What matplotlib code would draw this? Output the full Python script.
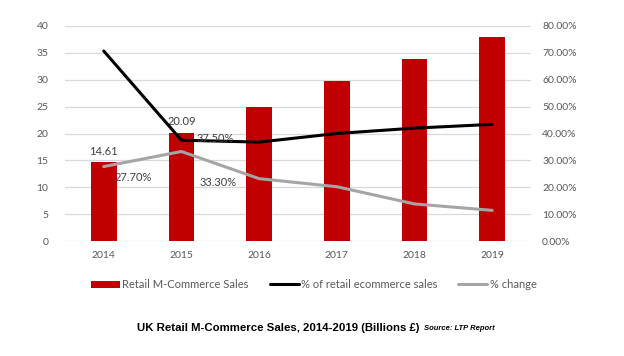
import matplotlib
matplotlib.use("Agg")
import matplotlib.pyplot as plt
import matplotlib.ticker as mtick
import numpy as np

plt.rcParams["font.family"] = ["Lato", "DejaVu Sans"]

# ─── DATA ─────────────────────────────────────────────────────────────────────
years = ["2014", "2015", "2016", "2017", "2018", "2019"]
sales = [14.61, 20.09, 24.9, 29.7, 33.9, 38.0]              # billions £
pct_ecommerce = [0.707, 0.375, 0.368, 0.400, 0.420, 0.434]  # share of retail ecommerce
pct_change = [0.277, 0.333, 0.232, 0.202, 0.138, 0.114]

sales_labels = ["14.61", "20.09"]
share_labels = ["37.50%"]
change_labels = ["27.70%", "33.30%"]

RED = "#C00000"
BLACK = "#000000"
GREY = "#A5A5A5"
TXT = "#595959"
LBL = "#404040"
GRID = "#D9D9D9"

# ─── PLOT ─────────────────────────────────────────────────────────────────────
fig = plt.figure(figsize=(6.24, 3.56), dpi=100)
ax = fig.add_axes([0.104, 0.323, 0.747, 0.604])
ax2 = ax.twinx()

x = np.arange(len(years))
bars = ax.bar(x, sales, width=0.33, color=RED, zorder=2, label="Retail M-Commerce Sales")

ax.set_xlim(-0.5, len(years) - 0.5)
ax.set_ylim(0, 40)
ax.set_yticks(np.arange(0, 41, 5))
ax.yaxis.grid(True, color=GRID, linewidth=0.9, zorder=0)
ax.set_axisbelow(True)
ax.set_xticks(x)
ax.set_xticklabels(years)
ax.tick_params(axis="both", length=0, labelsize=7.5, labelcolor=TXT)
ax.tick_params(axis="x", pad=7)
ax.tick_params(axis="y", pad=12)

line1, = ax2.plot(x, pct_ecommerce, color=BLACK, linewidth=2.2,
                  solid_capstyle="round", label="% of retail ecommerce sales")
line2, = ax2.plot(x, pct_change, color=GREY, linewidth=2.2,
                  solid_capstyle="round", label="% change")
ax2.set_ylim(0, 0.8)
ax2.set_yticks(np.arange(0, 0.81, 0.1))
ax2.yaxis.set_major_formatter(mtick.FuncFormatter(lambda v, p: f"{v * 100:.2f}%"))
ax2.tick_params(axis="y", length=0, labelsize=7.5, labelcolor=TXT, pad=8)

for a in (ax, ax2):
    for s in a.spines.values():
        s.set_visible(False)

# data labels (only first two years are labelled in the original)
for i, lab in enumerate(sales_labels):
    ax.annotate(lab, (x[i], sales[i]), xytext=(0, 4), textcoords="offset points",
                ha="center", va="bottom", fontsize=8, color=LBL)
for i, lab in enumerate(share_labels, start=1):
    ax2.annotate(lab, (x[i], pct_ecommerce[i]), xytext=(11, 1), textcoords="offset points",
                 ha="left", va="center", fontsize=8, color=LBL)
change_offsets = [(8, -8), (13, -22)]
for i, lab in enumerate(change_labels):
    ax2.annotate(lab, (x[i], pct_change[i]), xytext=change_offsets[i],
                 textcoords="offset points", ha="left", va="center", fontsize=8, color=LBL)

fig.legend(handles=[bars, line1, line2], loc="center", bbox_to_anchor=(0.503, 0.2),
           ncol=3, frameon=False, fontsize=8, labelcolor=TXT, handlelength=2.6,
           handleheight=0.7, columnspacing=1.9, handletextpad=0.2)

fig.text(0.672, 0.078, "UK Retail M-Commerce Sales, 2014-2019 (Billions £)",
         ha="right", va="center", fontsize=8.2, fontweight="bold",
         family=["Liberation Sans", "DejaVu Sans"])
fig.text(0.68, 0.078, "Source: LTP Report", ha="left", va="center", fontsize=5.5,
         fontweight="bold", fontstyle="italic", family=["Liberation Sans", "DejaVu Sans"])

fig.savefig("out.png", dpi=100, facecolor="white")
